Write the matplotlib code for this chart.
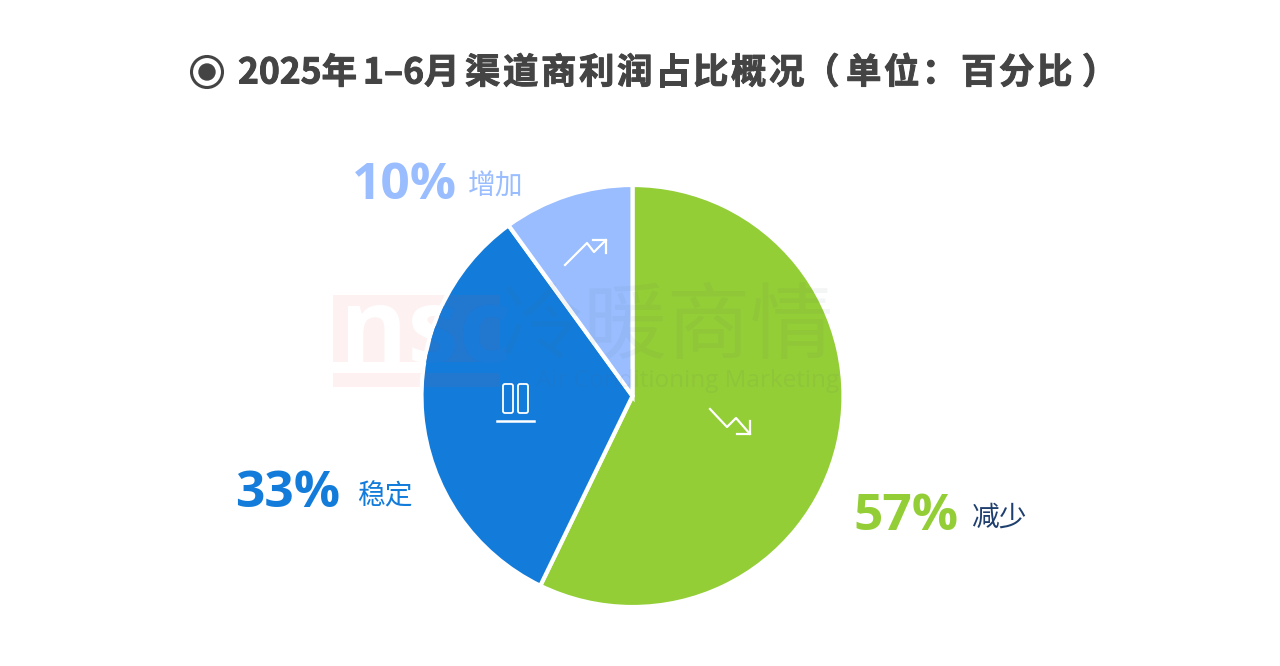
import matplotlib
matplotlib.use("Agg")
from matplotlib import pyplot as plt
from matplotlib import patheffects as pe
from matplotlib.font_manager import FontProperties
from matplotlib.patches import Circle, Rectangle, FancyBboxPatch, PathPatch
from matplotlib.textpath import TextPath
from matplotlib.transforms import Affine2D

CJK = ["Noto Sans CJK SC", "DejaVu Sans"]

categories = ["减少", "稳定", "增加"]
values = [57.2, 32.8, 10.0]
colors = ["#93ce37", "#137cdb", "#99bdff"]
label_colors = ["#1f3f6e", "#137cdb", "#99bdff"]

W, H = 1280, 666
CX, CY, R = 632.5, 396, 211
LOGO_X, LOGO_Y, LOGO_PT = 340, 362, 74
fig = plt.figure(figsize=(W / 100, H / 100), dpi=100, facecolor="white")


def pixel_axes(zorder):
    a = fig.add_axes([0, 0, 1, 1], facecolor="none", zorder=zorder)
    a.set_xlim(0, W)
    a.set_ylim(H, 0)
    a.axis("off")
    return a


def logo_block(a, clip=None):
    # pink block with a white band through it
    for y0, y1 in [(295, 362), (373, 387)]:
        r = Rectangle((333, y0), 167, y1 - y0, color="#e8413a", alpha=0.07, lw=0)
        a.add_patch(r)
        if clip is not None:
            r.set_clip_path(clip)


# logo under the pie, only the part left of the pie shows
under = pixel_axes(1)
logo_block(under)
under.text(LOGO_X, LOGO_Y, "nsc", fontsize=LOGO_PT, fontweight="bold", color="white",
           family="Open Sans", ha="left", va="baseline")

# pie, centre CX,CY
pie_ax = fig.add_axes([(CX - R) / W, 1 - (CY + R) / H, 2 * R / W, 2 * R / H], zorder=2)
pie_ax.pie(values, colors=colors, startangle=90, counterclock=False, radius=1,
           wedgeprops={"edgecolor": "white", "linewidth": 3})
pie_ax.set_xlim(-1, 1)
pie_ax.set_ylim(-1, 1)

# overlay in pixel coordinates for text, icons, watermark
ax = pixel_axes(3)
disc = Circle((CX, CY), R - 2, transform=ax.transData)
logo_block(ax, clip=disc)
# agg ignores clip paths on text, so the part on the pie goes in as a path
letters = TextPath((0, 0), "nsc", size=LOGO_PT,
                   prop=FontProperties(family="Open Sans", weight="bold"))
scale = 100 / 72
knock = PathPatch(letters, fc="#1a7ad8", lw=0,
                  transform=Affine2D().scale(scale, -scale).translate(LOGO_X, LOGO_Y) + ax.transData)
ax.add_patch(knock)
knock.set_clip_path(disc)

# title
TITLE = {"fontsize": 25.5, "fontweight": "bold", "color": "#444444", "family": CJK,
         "ha": "left", "va": "center",
         "path_effects": [pe.withStroke(linewidth=0.7, foreground="#444444")]}
ax.add_patch(Circle((207, 72), 15.5, fill=False, ec="#444444", lw=2.2))
ax.add_patch(Circle((207, 72), 8, color="#444444"))
ax.text(238, 73, "2025年", **TITLE)
ax.text(363, 73, "1–6月", **TITLE)
for i, ch in enumerate("渠道商利润占比概况"):
    ax.text(465 + i * 38, 73, ch, **TITLE)
ax.text(804, 73, "（", **TITLE)
for i, ch in enumerate("单位："):
    ax.text(846 + i * 38, 73, ch, **TITLE)
for i, ch in enumerate("百分比"):
    ax.text(961 + i * 38, 73, ch, **TITLE)
ax.text(1082, 73, "）", **TITLE)

# value labels
pct_pos = [(853, 517), (235, 494), (352, 186)]
name_pos = [(971, 518), (357, 496), (468, 187)]
for v, c, lc, name, p, n in zip(values, colors, label_colors, categories, pct_pos, name_pos):
    ax.text(p[0], p[1], f"{v:.0f}%", fontsize=37, fontweight="bold", color=c,
            family="Open Sans", ha="left", va="center")
    ax.text(n[0], n[1], name, fontsize=20, color=lc, family=CJK, ha="left", va="center")

# icons
ax.plot([565, 587, 594, 606], [265, 243, 252, 240], color="white", lw=1.6)
ax.plot([593, 606, 606], [240, 240, 253], color="white", lw=1.6)
ax.plot([710, 727, 736, 750], [409, 427, 418, 434], color="white", lw=1.6)
ax.plot([737, 750, 750], [434, 434, 421], color="white", lw=1.6)
for x0 in (503, 518):
    ax.add_patch(FancyBboxPatch((x0, 384), 10, 29, boxstyle="round,pad=0,rounding_size=2",
                                fill=False, ec="white", lw=1.3))
ax.plot([497, 534], [421, 421], color="white", lw=1.8)

# watermark text
ax.text(668, 328, "冷暖商情", fontsize=60, color="#505a60", alpha=0.06,
        family=CJK, ha="center", va="center")
ax.text(688, 381, "Air Conditioning Marketing", fontsize=17.5, color="#505a60", alpha=0.07,
        family="Open Sans", ha="center", va="center")

fig.savefig("out.png", dpi=100)
